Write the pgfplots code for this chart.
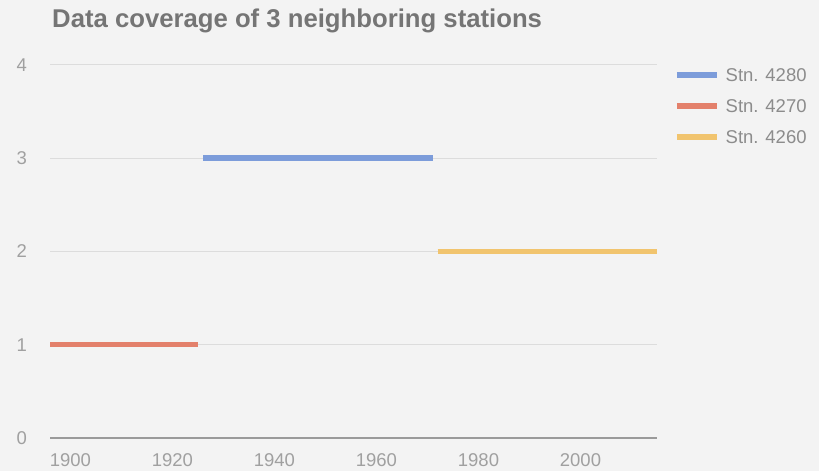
\documentclass[border=0pt]{standalone}
\usepackage{pgfplots}
\pgfplotsset{compat=1.18}
\usepackage{fontspec}
\setmainfont{Liberation Sans}
\definecolor{bgc}{HTML}{F3F3F3}
\definecolor{gridc}{HTML}{DCDCDC}
\definecolor{axisc}{HTML}{9A9A9A}
\definecolor{tickc}{HTML}{A0A0A0}
\definecolor{titlec}{HTML}{757575}
\definecolor{legc}{HTML}{8C8C8C}
\definecolor{sblue}{HTML}{7C9CDA}
\definecolor{sred}{HTML}{E3806B}
\definecolor{syellow}{HTML}{F1C46E}
\begin{document}
\begin{tikzpicture}
\fill[bgc] (0bp,0bp) rectangle (819bp,471bp);
\useasboundingbox (0bp,0bp) rectangle (819bp,471bp);
\node[anchor=base west, inner sep=0pt, text=titlec, font=\bfseries\fontsize{25.7bp}{30bp}\selectfont] at (52bp,443bp) {Data coverage of 3 neighboring stations};
\begin{axis}[
  at={(50bp,33bp)}, anchor=south west,
  width=607bp, height=373bp, scale only axis,
  xmin=1896, xmax=2015, ymin=0, ymax=4,
  xtick={1900,1920,1940,1960,1980,2000},
  ytick={0,1,2,3,4},
  /pgf/number format/assume math mode=true,
  /pgf/number format/1000 sep={},
  major tick length=0pt,
  axis line style={draw=none},
  ymajorgrids,
  major grid style={gridc, line width=1bp},
  extra y ticks={0},
  extra y tick labels={},
  extra y tick style={major grid style={axisc, line width=1.4bp}},
  tick label style={text=tickc, font=\fontsize{18.5bp}{22bp}\selectfont, inner sep=0pt},
  yticklabel style={anchor=east, xshift=-23bp},
  xticklabel style={anchor=north, yshift=-15bp},
  legend style={at={(1,1)}, anchor=north west, xshift=17bp, yshift=-3.35bp,
    draw=none, fill=none, inner sep=0pt, column sep=6bp, row sep=17.7bp,
    font=\fontsize{18.5bp}{22bp}\selectfont, text=legc,
    nodes={inner sep=0pt, text height=13.3bp, text depth=0bp}},
  legend cell align=left,
  legend image code/.code={\draw[#1, line width=5.5bp] (0bp,0bp) -- (40bp,0bp);},
]
\addplot[sblue, line width=5.5bp, line cap=butt] coordinates {(1926,3) (1971,3)};
\addlegendentry{Stn. 4280}
\addplot[sred, line width=5.5bp, line cap=butt] coordinates {(1896,1) (1925,1)};
\addlegendentry{Stn. 4270}
\addplot[syellow, line width=5.5bp, line cap=butt] coordinates {(1972,2) (2015,2)};
\addlegendentry{Stn. 4260}
\end{axis}
\end{tikzpicture}
\end{document}
